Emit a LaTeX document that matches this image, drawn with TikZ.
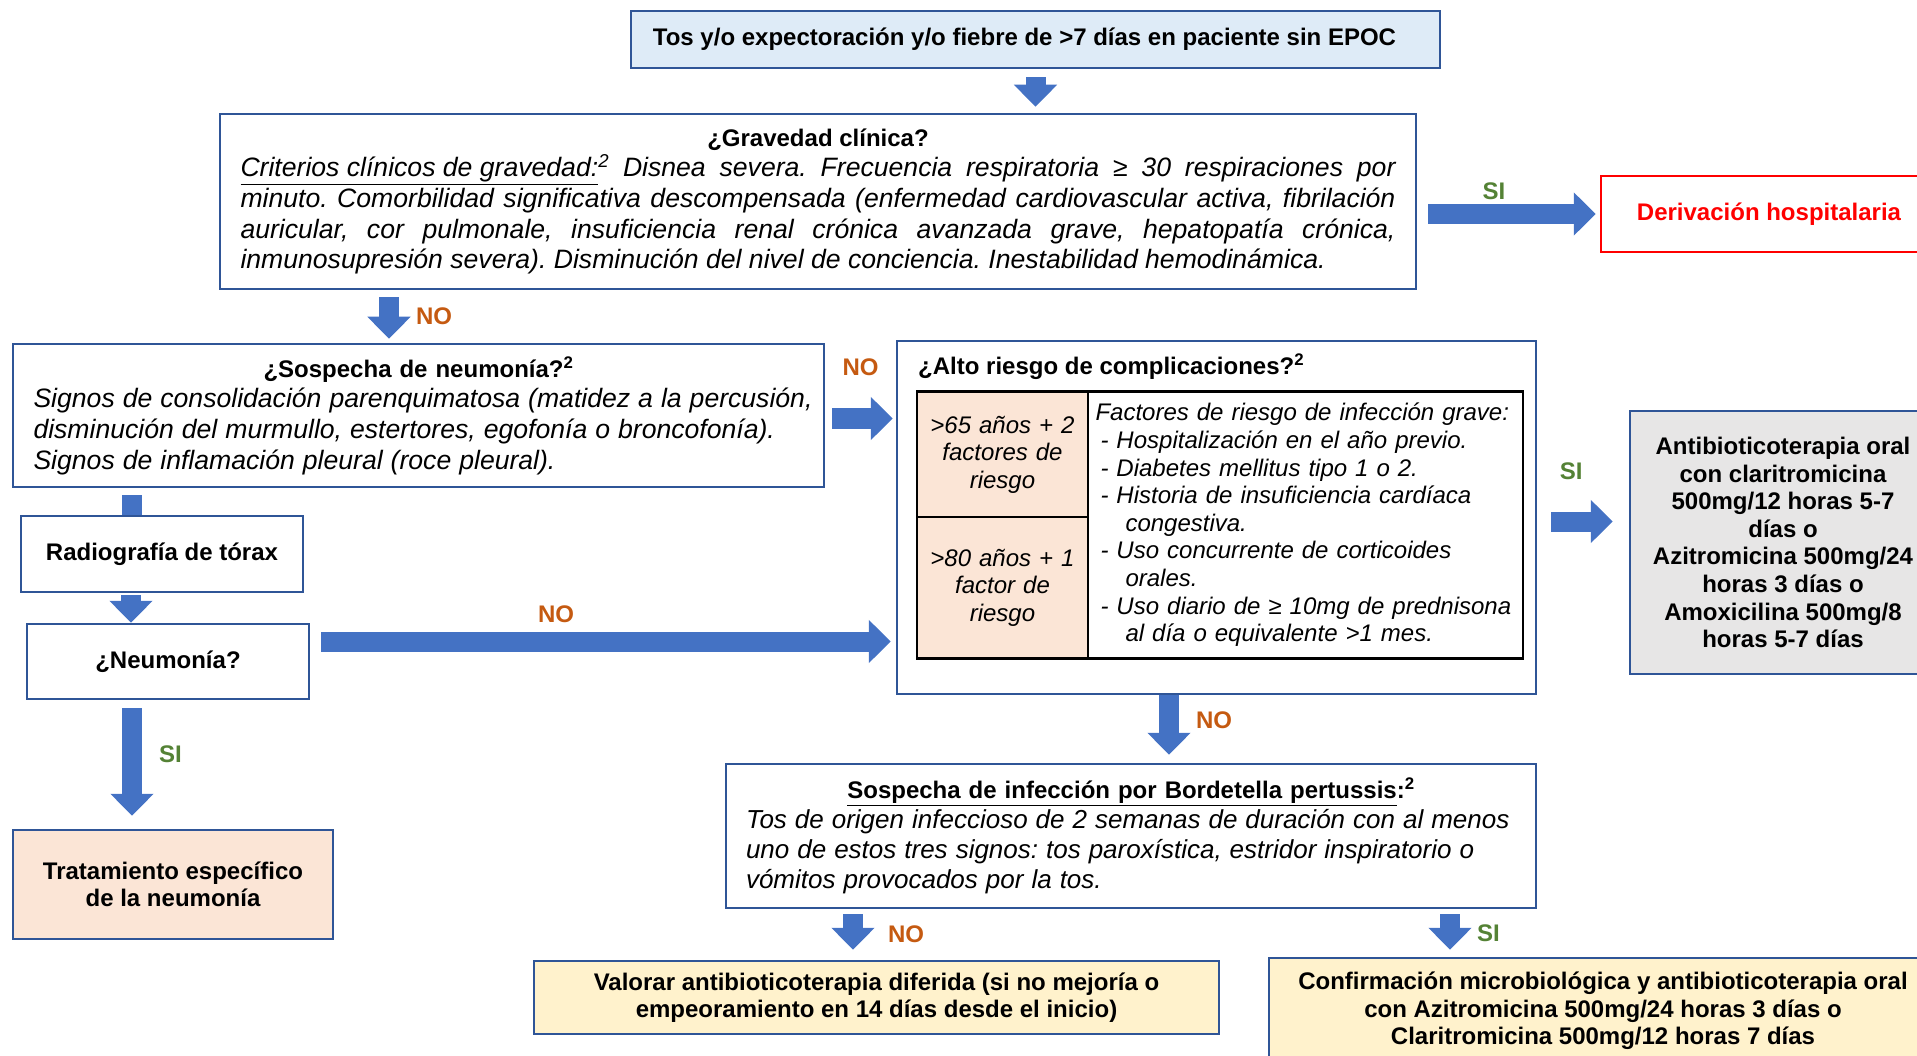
\documentclass[tikz,border=0pt]{standalone}
\usepackage{fontspec}
\setmainfont{Liberation Sans}
\usepackage{tikz}
\usetikzlibrary{arrows.meta, positioning}

\definecolor{boxblue}{HTML}{2F5597}
\definecolor{arrowblue}{HTML}{4472C4}
\definecolor{toplight}{HTML}{DEEBF7}
\definecolor{peach}{HTML}{FBE5D6}
\definecolor{cream}{HTML}{FFF2CC}
\definecolor{greybox}{HTML}{E7E6E6}
\definecolor{noorange}{HTML}{C55A11}
\definecolor{sigreen}{HTML}{548235}

\newcommand{\bsz}{\fontsize{24}{27.6}\selectfont\bfseries}
\newcommand{\isz}{\fontsize{26.6}{30.6}\selectfont\mdseries\itshape}
\newcommand{\tsz}{\fontsize{24}{27.6}\selectfont\mdseries\itshape}
\frenchspacing

\begin{document}
\begin{tikzpicture}[x=1pt, y=-1pt,
    box/.style={draw=boxblue, line width=2.5pt, inner sep=0pt, align=center, font=\bsz},
    cell/.style={draw=black, line width=1.2pt, inner sep=0pt, align=center, font=\tsz},
    fat/.style={draw=arrowblue, line width=20pt, -{Triangle[width=42pt,length=22pt]}},
    fatline/.style={draw=arrowblue, line width=20pt},
    no/.style={text=noorange, font=\bsz, inner sep=3pt, outer sep=0pt},
    si/.style={text=sigreen, font=\bsz, inner sep=3pt, outer sep=0pt}]

    \useasboundingbox (0,0) rectangle (1917,1056);
    \clip (0,0) rectangle (1917,1056);

    \node[box, fill=toplight, minimum width=809pt, minimum height=57pt] (top) at (1035.5,39.5)
        {\hspace*{-22pt}Tos y/o expectoración y/o fiebre de >7 días en paciente sin EPOC};

    \node[box, minimum width=1196pt, minimum height=175pt, text width=1155pt, align=justify] (grav) at (818,201.5)
        {{\centering\bsz ¿Gravedad clínica?\par}\isz\noindent
         \underline{Criterios clínicos de gravedad:}\textsuperscript{2} Disnea severa. Frecuencia respiratoria ≥ 30 respiraciones por\linebreak
         minuto. Comorbilidad significativa descompensada (enfermedad cardiovascular activa, fibrilación\linebreak
         auricular, cor pulmonale, insuficiencia renal crónica avanzada grave, hepatopatía crónica,\linebreak
         inmunosupresión severa). Disminución del nivel de conciencia. Inestabilidad hemodinámica.\par};

    \node[box, draw=red, text=red, minimum width=336pt, minimum height=76pt] (deriv) at (1769,214)
        {Derivación hospitalaria};

    \node[box, minimum width=811pt, minimum height=143pt, text width=790pt, align=left] (sosp) at (418.5,415.5)
        {{\centering\bsz ¿Sospecha de neumonía?\textsuperscript{2}\par}\isz
         \hspace*{10pt}Signos de consolidación parenquimatosa (matidez a la percusión,\\
         \hspace*{10pt}disminución del murmullo, estertores, egofonía o broncofonía).\\
         \hspace*{10pt}Signos de inflamación pleural (roce pleural).\par};

    \node[box, minimum width=282pt, minimum height=76pt] (radio) at (162,554) {Radiografía de tórax};
    \node[box, minimum width=282pt, minimum height=75pt] (neum) at (168,661.5) {¿Neumonía?};
    \node[box, fill=peach, minimum width=320pt, minimum height=109pt] (trat) at (173,884.5)
        {Tratamiento específico\\ de la neumonía};

    \node[box, minimum width=639pt, minimum height=353pt] (alto) at (1216.5,517.5) {};
    \node[anchor=west, inner sep=0pt, font=\bsz] (altot) at (918,367)
        {¿Alto riesgo de complicaciones?\textsuperscript{2}};
    \node[cell, fill=peach, minimum width=171pt, minimum height=125pt, text width=165pt] (r65) at (1002.5,454.5)
        {>65 años + 2\\ factores de\\ riesgo};
    \node[cell, fill=peach, minimum width=171pt, minimum height=141pt, text width=165pt] (r80) at (1002.5,587.5)
        {>80 años + 1\\ factor de\\ riesgo};
    \node[cell, minimum width=435pt, minimum height=266pt, text width=420pt, align=left] (fr) at (1305.5,525)
        {Factores de riesgo de infección grave:\\
         \hspace*{5pt}- Hospitalización en el año previo.\\
         \hspace*{5pt}- Diabetes mellitus tipo 1 o 2.\\
         \hspace*{5pt}- Historia de insuficiencia cardíaca\\
         \hspace*{30pt}congestiva.\\
         \hspace*{5pt}- Uso concurrente de corticoides\\
         \hspace*{30pt}orales.\\
         \hspace*{5pt}- Uso diario de ≥ 10mg de prednisona\\
         \hspace*{30pt}al día o equivalente >1 mes.};
    \draw[line width=3pt] (r65.north west) -- (fr.north east);
    \draw[line width=3pt] (r80.south west) -- (fr.south east);

    \node[box, fill=greybox, minimum width=306pt, minimum height=263pt] (anti) at (1783,542.5)
        {Antibioticoterapia oral\\ con claritromicina\\ 500mg/12 horas 5-7\\ días o\\
         Azitromicina 500mg/24\\ horas 3 días o\\ Amoxicilina 500mg/8\\ horas 5-7 días};

    \node[box, minimum width=810pt, minimum height=144pt, text width=770pt, align=left] (bord) at (1131,836)
        {{\centering\bsz\underline{Sospecha de infección por Bordetella pertussis}:\textsuperscript{2}\par}
         \fontsize{26}{30}\selectfont\mdseries\itshape
         Tos de origen infeccioso de 2 semanas de duración con al menos\\
         uno de estos tres signos: tos paroxística, estridor inspiratorio o\\
         vómitos provocados por la tos.\par};

    \node[box, fill=cream, minimum width=685pt, minimum height=73pt] (val) at (876.5,997.5)
        {Valorar antibioticoterapia diferida (si no mejoría o\\ empeoramiento en 14 días desde el inicio)};
    \node[box, fill=cream, minimum width=668pt, minimum height=106pt] (conf) at (1603,1011)
        {Confirmación microbiológica y antibioticoterapia oral\\ con Azitromicina 500mg/24 horas 3 días o\\
         Claritromicina 500mg/12 horas 7 días};

    \coordinate (a1) at ([xshift=-29.5pt]sosp.north);
    \coordinate (a2) at ([yshift=-3pt]sosp.east);
    \coordinate (a3) at ([xshift=-30pt]radio.north);
    \coordinate (a4) at ([xshift=-31pt]radio.south);
    \coordinate (a5) at ([yshift=20pt]neum.east);
    \coordinate (a6) at ([xshift=-36pt]neum.south);
    \coordinate (a7) at ([yshift=-4pt]alto.east);
    \coordinate (a8) at ([xshift=-47.5pt]alto.south);
    \coordinate (a9) at ([xshift=-23.5pt]val.north);
    \coordinate (a10) at ([xshift=-153pt]conf.north);

    \draw[fat, shorten <=8pt, shorten >=6pt] (top.south) -- (top.south |- grav.north);
    \draw[fat, shorten <=11pt, shorten >=4pt] (deriv.west -| grav.east) -- (deriv.west)
        node[si, pos=0.42, above=11pt] {SI};
    \draw[fat, shorten <=7pt, shorten >=4pt] (a1 |- grav.south) -- (a1)
        node[no, midway, right=24pt] {NO};
    \draw[fat, shorten <=7pt, shorten >=3pt] (a2) -- (a2 -| alto.west)
        node[no, midway, above=40pt] {NO};
    \draw[fatline, shorten <=7pt] (a3 |- sosp.south) -- (a3);
    \draw[fat, shorten <=2pt] (a4) -- (a4 |- neum.north);
    \draw[fat, shorten <=11pt, shorten >=5pt] (a5) -- (a5 -| alto.west)
        node[no, pos=0.42, above=16pt] {NO};
    \draw[fat, shorten <=8pt, shorten >=13pt] (a6) -- (a6 |- trat.north)
        node[si, pos=0.42, right=24pt] {SI};
    \draw[fat, shorten <=14pt, shorten >=16pt] (a7) -- (a7 -| anti.west)
        node[si, pos=0.37, above=39pt] {SI};
    \draw[fat, shorten >=8pt] (a8) -- (a8 |- bord.north)
        node[no, pos=0.37, right=24pt] {NO};
    \draw[fat, shorten <=5pt, shorten >=10pt] (a9 |- bord.south) -- (a9)
        node[no, midway, right=32pt] {NO};
    \draw[fat, shorten <=5pt, shorten >=7pt] (a10 |- bord.south) -- (a10)
        node[si, midway, right=24pt] {SI};
\end{tikzpicture}
\end{document}
